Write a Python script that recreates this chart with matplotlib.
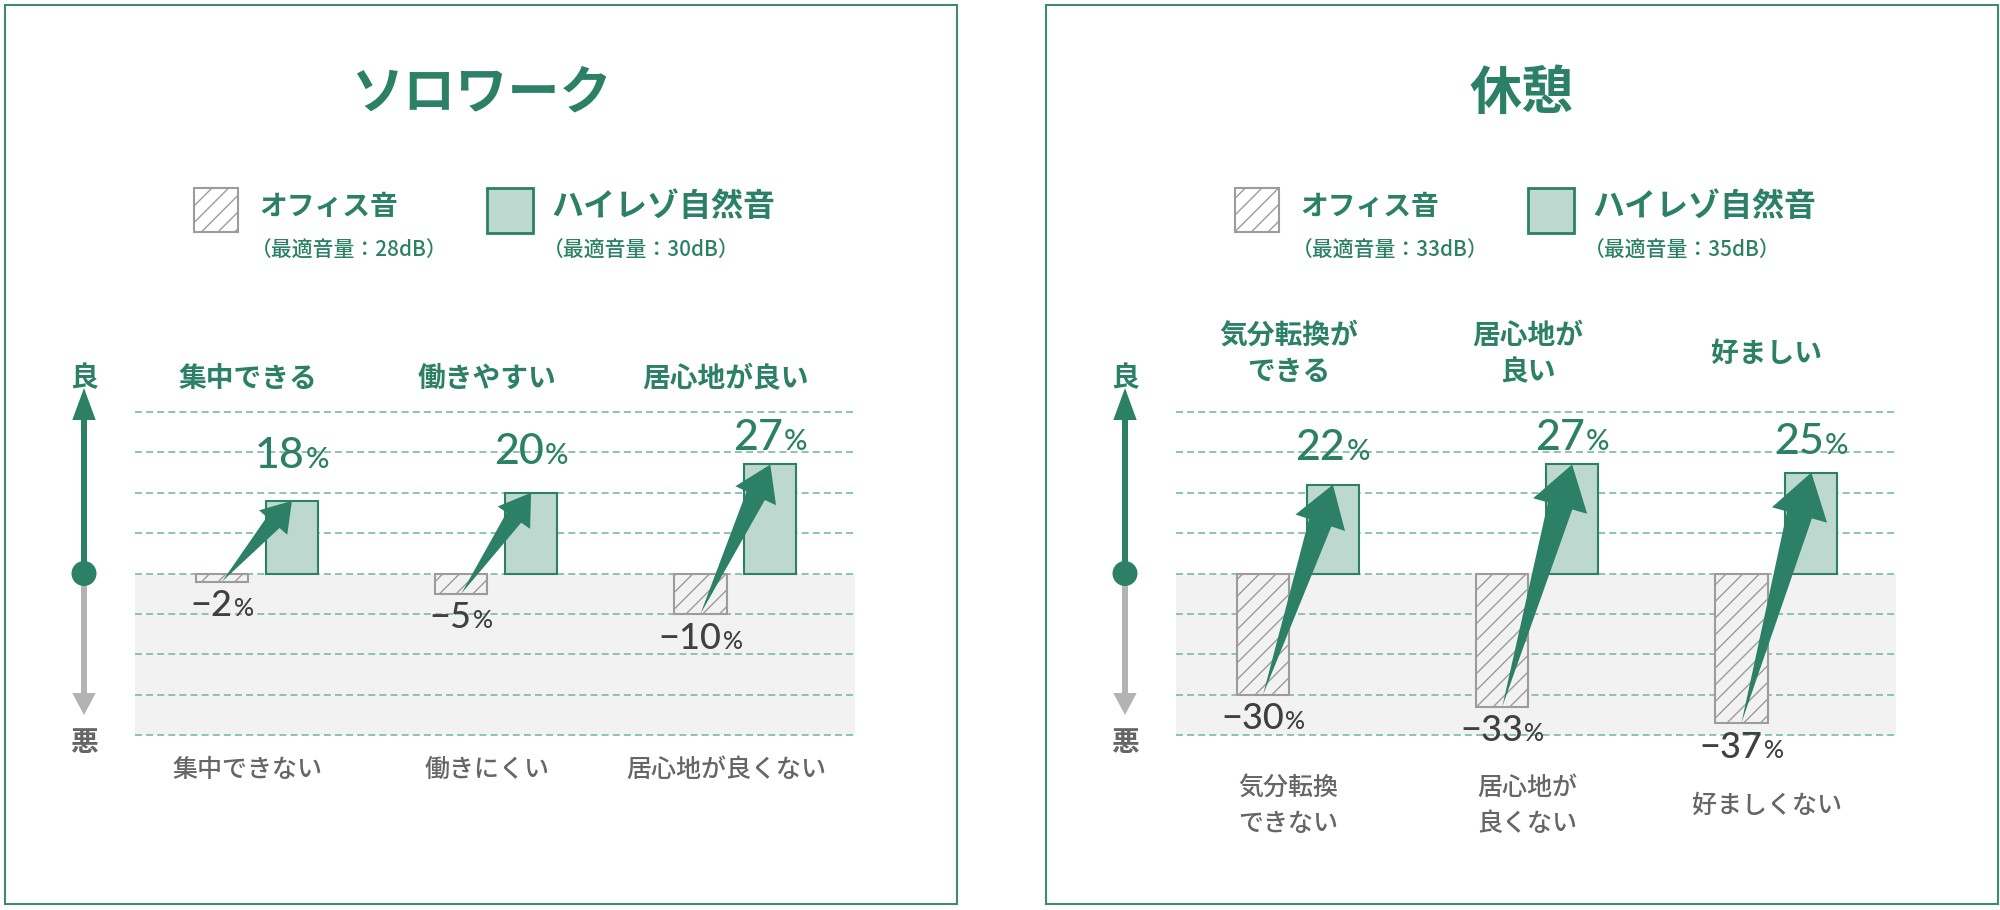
import matplotlib
matplotlib.use("Agg")
import matplotlib.pyplot as plt
from matplotlib.patches import Rectangle, Polygon, Circle
from matplotlib.offsetbox import TextArea, HPacker, AnnotationBbox
from matplotlib.transforms import blended_transform_factory
import numpy as np

# ---------------- data ----------------
panel_titles = ["ソロワーク", "休憩"]
legend_names = ["オフィス音", "ハイレゾ自然音"]
good_mark, bad_mark = "良", "悪"

solo_good = ["集中できる", "働きやすい", "居心地が良い"]
solo_bad = ["集中できない", "働きにくい", "居心地が良くない"]
solo_office = [-2, -5, -10]
solo_hires = [18, 20, 27]
solo_db = [28, 30]

rest_good = ["気分転換が\nできる", "居心地が\n良い", "好ましい"]
rest_bad = ["気分転換\nできない", "居心地が\n良くない", "好ましくない"]
rest_office = [-30, -33, -37]
rest_hires = [22, 27, 25]
rest_db = [33, 35]

grid_ticks = [-40, -30, -20, -10, 0, 10, 20, 30, 40]

# ---------------- style ----------------
W, H = 2000, 910
GREEN = "#2b8066"
LIGHT = "#bdd9cf"
GRID = "#82c0a9"
GRAYTXT = "#666666"
NUMGRAY = "#404040"
SHADE = "#f2f2f2"
HATCH = "#9c9c9c"
ARROWGRAY = "#b3b3b3"
FRAME = "#3f8b72"
NUMFONT = ["Lato", "DejaVu Sans"]

plt.rcParams['font.family'] = ['Noto Sans CJK JP', 'DejaVu Sans']
plt.rcParams['hatch.linewidth'] = 1.0
plt.rcParams['hatch.color'] = HATCH
plt.rcParams['lines.scale_dashes'] = False

fig = plt.figure(figsize=(W / 100, H / 100), dpi=100)
ov = fig.add_axes([0, 0, 1, 1])
ov.set_xlim(0, W)
ov.set_ylim(H, 0)
ov.axis('off')

AX_TOP, AX_BOT, AX_W = 412, 735, 720
ZERO_Y = (AX_TOP + AX_BOT) / 2

panels = [
    dict(x0=5, title=panel_titles[0], good=solo_good, bad=solo_bad,
         office=solo_office, hires=solo_hires, db=solo_db, good_y=379, bad_y=770),
    dict(x0=1046, title=panel_titles[1], good=rest_good, bad=rest_bad,
         office=rest_office, hires=rest_hires, db=rest_db, good_y=354, bad_y=806),
]


def value_label(ax, x, y, v, color, size_num, size_pct, weight):
    num = ("−" + str(abs(v))) if v < 0 else str(v)
    ta1 = TextArea(num, textprops=dict(fontsize=size_num, color=color, family=NUMFONT,
                                       weight=weight))
    ta2 = TextArea("%", textprops=dict(fontsize=size_pct, color=color, family=NUMFONT,
                                       weight=weight))
    box = HPacker(children=[ta1, ta2], align="baseline", pad=0, sep=1)
    ab = AnnotationBbox(box, (x, y), xycoords='data', frameon=False,
                        box_alignment=(0.5, 0.5), annotation_clip=False, zorder=6)
    ax.add_artist(ab)


def big_arrow(ax, p0, p1):
    T = ax.transData.transform(p0)
    P = ax.transData.transform(p1)
    d = P - T
    L = np.hypot(*d)
    u = d / L
    n = np.array([-u[1], u[0]])
    hl = 18 + 0.1 * L
    hw = 0.65 * hl
    sw = 0.45 * hw
    B = P - hl * u
    pts = np.array([T, B + sw * n, B + hw * n, P, B - hw * n, B - sw * n])
    pts = ax.transData.inverted().transform(pts)
    ax.add_patch(Polygon(pts, closed=True, facecolor=GREEN, edgecolor='none',
                         zorder=4, clip_on=False))


for p in panels:
    x0 = p['x0']
    # frame
    ov.add_patch(Rectangle((x0, 5), 952, 899, fill=False, edgecolor=FRAME, lw=1.5))
    # title
    ov.text(x0 + 476, 93, p['title'], fontsize=37.5, weight='bold', color=GREEN,
            ha='center', va='center')
    # legend
    ov.add_patch(Rectangle((x0 + 189, 188), 44, 44, facecolor='white',
                           edgecolor=HATCH, hatch='//', lw=1.5))
    ov.add_patch(Rectangle((x0 + 482, 188), 46, 45, facecolor=LIGHT,
                           edgecolor=GREEN, lw=2))
    ov.text(x0 + 254, 207, legend_names[0], fontsize=20, weight='bold', color=GREEN,
            ha='left', va='center')
    ov.text(x0 + 546, 207, legend_names[1], fontsize=23, weight='bold', color=GREEN,
            ha='left', va='center')
    ov.text(x0 + 246, 251, f"（最適音量：{p['db'][0]}dB）", fontsize=15, weight='medium',
            color=GREEN, ha='left', va='center')
    ov.text(x0 + 538, 251, f"（最適音量：{p['db'][1]}dB）", fontsize=15, weight='medium',
            color=GREEN, ha='left', va='center')

    # vertical good/bad arrow
    c = x0 + 79
    ov.add_patch(Rectangle((c - 2.9, 418), 5.8, ZERO_Y - 418, facecolor=GREEN, edgecolor='none'))
    ov.add_patch(Polygon([(c - 11.7, 420), (c + 11.7, 420), (c, 388)], closed=True,
                         facecolor=GREEN, edgecolor='none'))
    ov.add_patch(Rectangle((c - 2.9, ZERO_Y), 5.8, 695 - ZERO_Y, facecolor=ARROWGRAY,
                           edgecolor='none'))
    ov.add_patch(Polygon([(c - 11.7, 693), (c + 11.7, 693), (c, 715)], closed=True,
                         facecolor=ARROWGRAY, edgecolor='none'))
    ov.add_patch(Circle((c, ZERO_Y), 12.5, facecolor=GREEN, edgecolor='none'))
    ov.text(c, 378, good_mark, fontsize=20, weight='bold', color=GREEN, ha='center', va='center')
    ov.text(c, 743, bad_mark, fontsize=20, weight='bold', color=GRAYTXT, ha='center', va='center')

    # chart axes
    ax = fig.add_axes([(x0 + 130) / W, (H - AX_BOT) / H, AX_W / W, (AX_BOT - AX_TOP) / H])
    ax.set_xlim(-0.51, 2.5)
    ax.set_ylim(-40, 40)
    ax.axis('off')
    ax.patch.set_visible(False)
    ax.axhspan(-40, 0, color=SHADE, zorder=0, lw=0)
    for t in grid_ticks:
        ax.axhline(t, color=GRID, lw=1.3, ls=(0, (5, 3)), zorder=1, clip_on=False)

    x = np.arange(len(p['office']))
    off, bw = 0.146, 0.218
    ax.bar(x - off, p['office'], bw, facecolor=SHADE, edgecolor=HATCH, hatch='//',
           lw=1.5, zorder=2)
    ax.bar(x + off, p['hires'], bw, facecolor=LIGHT, edgecolor=GREEN, lw=1.5, zorder=2)

    for xi, vo, vh in zip(x, p['office'], p['hires']):
        big_arrow(ax, (xi - off, vo), (xi + off, vh))
        value_label(ax, xi + off, 20 + 0.5 * vh, vh, GREEN, 31, 21, 'medium')
        value_label(ax, xi - off, vo - 6, vo, NUMGRAY, 26, 18, 'medium')

    tr = blended_transform_factory(ax.transData, ax.transAxes)
    gy = (AX_BOT - p['good_y']) / (AX_BOT - AX_TOP)
    by = (AX_BOT - p['bad_y']) / (AX_BOT - AX_TOP)
    for xi, lab in zip(x, p['good']):
        ax.text(xi - 0.04, gy, lab, transform=tr, fontsize=20, weight='bold', color=GREEN,
                ha='center', va='center', multialignment='center', linespacing=1.4)
    for xi, lab in zip(x, p['bad']):
        ax.text(xi - 0.04, by, lab, transform=tr, fontsize=18, weight='medium', color=GRAYTXT,
                ha='center', va='center', multialignment='center', linespacing=1.5)

fig.savefig("out.png", dpi=100, facecolor='white')
